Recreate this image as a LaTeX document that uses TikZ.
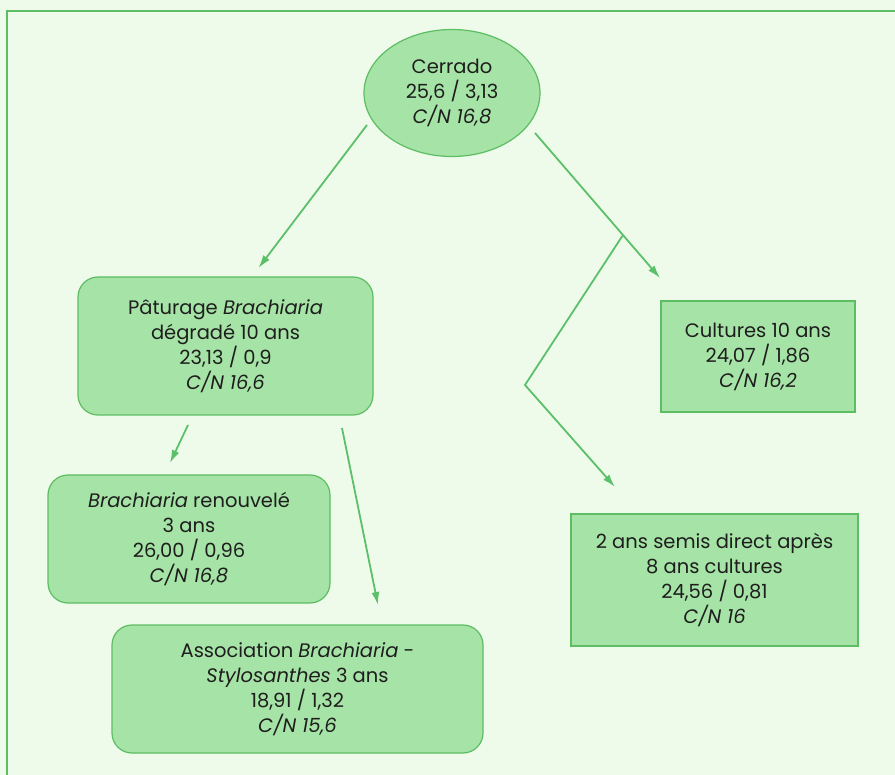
\documentclass[tikz,border=0pt]{standalone}
\usepackage{fontspec}
\setmainfont{Poppins}
\usetikzlibrary{calc,shapes.geometric,arrows.meta}
\definecolor{bgc}{HTML}{EEFBEA}
\definecolor{boxfill}{HTML}{A6E3A6}
\definecolor{boxline}{HTML}{5DBD62}
\definecolor{arrc}{HTML}{5CC06A}
\definecolor{txt}{HTML}{1E1E1E}
\tikzset{
  lab/.style={align=center,text=txt,font=\fontsize{19.5}{25}\selectfont,inner sep=0pt,outer sep=0pt},
  rbox/.style={lab,draw=boxline,fill=boxfill,line width=1.2pt,rounded corners=20pt},
  sbox/.style={lab,draw=boxline,fill=boxfill,line width=1.2pt},
  ebox/.style={lab,ellipse,draw=boxline,fill=boxfill,line width=1.2pt},
  arr/.style={draw=arrc,line width=1.8pt,-{Latex[length=13pt,width=8pt]}},
  frame/.style={draw=boxline,line width=1.4pt}
}
\begin{document}
\begin{tikzpicture}[x=1pt,y=-1pt]
\fill[bgc] (0,0) rectangle (895,775);
\useasboundingbox (0,0) rectangle (895,775);
\draw[frame] (7,775) -- (7,11) -- (895,11);

\node[ebox,minimum width=176pt,minimum height=127pt] (cer) at (452,93) {Cerrado\\25,6 / 3,13\\\textit{C/N 16,8}};
\node[rbox,minimum width=295pt,minimum height=138pt] (pat) at (225.5,346) {Pâturage \textit{Brachiaria}\\dégradé 10 ans\\23,13 / 0,9\\\textit{C/N 16,6}};
\node[rbox,minimum width=282pt,minimum height=128pt] (ren) at (189,539) {\textit{Brachiaria} renouvelé\\3 ans\\26,00 / 0,96\\\textit{C/N 16,8}};
\node[rbox,minimum width=371pt,minimum height=128pt] (ass) at (297.5,689) {Association \textit{Brachiaria} -\\\textit{Stylosanthes} 3 ans\\18,91 / 1,32\\\textit{C/N 15,6}};
\node[sbox,minimum width=194pt,minimum height=111pt] (cul) at (758,356.5) {Cultures 10 ans\\24,07 / 1,86\\\textit{C/N 16,2}};
\node[sbox,minimum width=287pt,minimum height=132pt] (dir) at (714.5,580) {2 ans semis direct après\\8 ans cultures\\24,56 / 0,81\\\textit{C/N 16}};

\coordinate (br) at (623,235);
\coordinate (knee) at (525,385);

\draw[arr] ($(cer.center)+(-85,32)$) -- ($(pat.north)+(33,-9)$);
\draw[arr] ($(cer.center)+(83,40)$) -- ($(cul.north west)+(-1,-23)$);
\draw[arr] (br) -- (knee) -- ($(dir.north)+(-99.5,-27)$);
\draw[arr] ($(pat.south)+(-37.5,10)$) -- ($(ren.north)+(-19,-12)$);
\draw[arr] ($(pat.south)+(116.5,13)$) -- ($(ass.north)+(80.5,-20)$);
\end{tikzpicture}
\end{document}
